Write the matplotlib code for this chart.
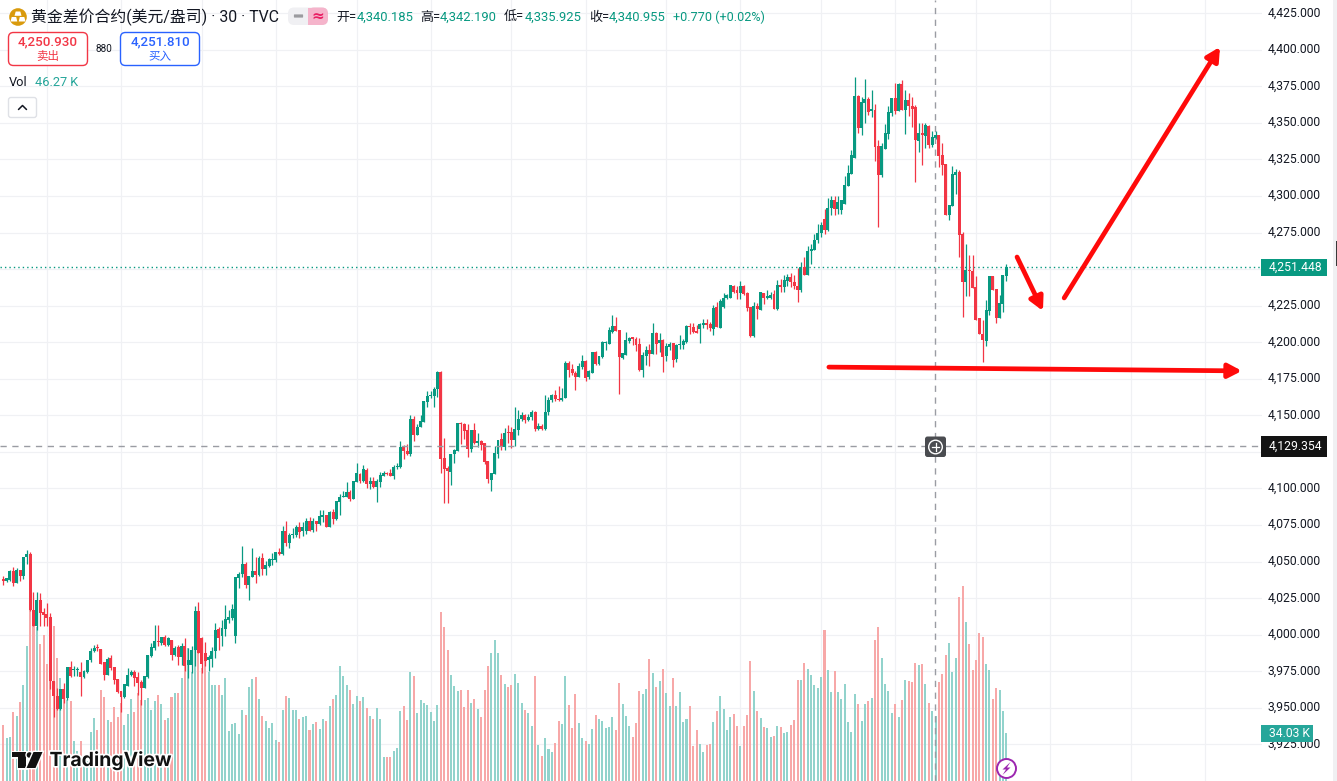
import matplotlib
matplotlib.use("Agg")
import matplotlib.pyplot as plt
from matplotlib.patches import Circle, FancyBboxPatch, Polygon, Rectangle
import matplotlib.patheffects as pe
from matplotlib.ticker import FuncFormatter
from matplotlib.transforms import ScaledTranslation

plt.rcParams['font.family'] = ['Roboto', 'Noto Sans CJK SC', 'DejaVu Sans']

# 30 minute gold CFD bars
opens = [
    4038, 4036.4, 4037.5, 4043.7, 4035, 4044.4, 4040, 4053, 4055.3, 4016.6,
    4006, 4023.9, 4015.6, 4014, 4012, 3968.5, 3958.2, 3949, 3963, 3956.6,
    3978, 3975.7, 3975.5, 3974.6, 3971.2, 3974.2, 3982.4, 3989, 3991, 3990.3,
    3981.4, 3972.6, 3984, 3978, 3969.8, 3961.6, 3957.5, 3965, 3972.6, 3974.6,
    3971.2, 3967.8, 3963.7, 3971.2, 3985.5, 3991, 3995.8, 3994.4, 3998.6, 3993,
    3996.5, 3986.2, 3991.5, 3985, 3992, 3979.4, 3979.4, 3989.7, 4016.3, 3997.9,
    3987.4, 3982.4, 3983.5, 3989, 4004, 3998.8, 4004, 4010, 4011.3, 3999.2,
    4038.6, 4041.6, 4048.4, 4034, 4039.7, 4043.6, 4040.9, 4052.7, 4044.8, 4047,
    4051, 4051.1, 4056.2, 4055, 4071, 4062.5, 4068, 4068.2, 4073.5, 4070.9,
    4070.9, 4077.5, 4071.6, 4077.5, 4075.7, 4080.7, 4081.8, 4073.9, 4083.6, 4079.1,
    4090.9, 4094.3, 4094.3, 4097.3, 4092.7, 4104.6, 4109.8, 4105.2, 4112.5, 4103,
    4105, 4100.9, 4104.6, 4108.6, 4110.5, 4110.9, 4108.6, 4114.6, 4114.6, 4128.2,
    4125.9, 4123.9, 4147.3, 4136.4, 4142.1, 4145.5, 4159.1, 4163.2, 4163, 4167.7,
    4179.6, 4120.7, 4113.9, 4111.4, 4123.4, 4125.5, 4144.6, 4143.9, 4139.8, 4126.8,
    4139.8, 4131.4, 4132.3, 4130.9, 4118.6, 4105.9, 4109.8, 4123.4, 4133.6, 4128.2,
    4138.4, 4138.4, 4133, 4139.8, 4147.3, 4150, 4147, 4149, 4152, 4141,
    4143, 4141, 4152, 4160.5, 4163.8, 4161, 4160.5, 4162, 4185.6, 4181.6,
    4179.3, 4176.1, 4182.9, 4187, 4176.1, 4178.8, 4193.1, 4185, 4189.7, 4199.7,
    4199, 4206.8, 4210.9, 4208.1, 4189.1, 4191.6, 4200.9, 4203.1, 4202, 4198.6,
    4180.9, 4190.4, 4194.5, 4191.8, 4206.1, 4199.3, 4201.3, 4190.4, 4196.6, 4199.3,
    4188.4, 4197.9, 4197.9, 4200, 4210.9, 4210.2, 4207.5, 4208.8, 4211.6, 4212.9,
    4212.2, 4208.8, 4223.8, 4209.5, 4223.8, 4230, 4230.6, 4238.8, 4235.4, 4233.4,
    4238.2, 4233.4, 4223.8, 4204, 4224.5, 4221.8, 4233.4, 4230.6, 4230.6, 4232.7,
    4222.5, 4239.5, 4237.5, 4242.2, 4244.3, 4240.9, 4238.2, 4235.4, 4251.8, 4245.7,
    4262.7, 4263.4, 4270.2, 4275, 4284, 4277, 4292, 4297, 4291, 4290.7,
    4294.7, 4307.2, 4315.2, 4326.1, 4368.4, 4346.6, 4363.6, 4366.3, 4358.4, 4358.8,
    4334.1, 4314.1, 4332.2, 4342.5, 4356.8, 4367, 4358.2, 4376.6, 4358.8, 4365.7,
    4361.6, 4360.9, 4337.7, 4342.5, 4341.1, 4347.9, 4335, 4340, 4341.8, 4328.2,
    4322, 4287.2, 4293.4, 4314.5, 4316.6, 4274.3, 4240.9, 4249.7, 4249, 4238.1,
    4216.3, 4205.4, 4200.6, 4221.1, 4245, 4236.1, 4216.3, 4225.9, 4245.6,
]
highs = [
    4040, 4039, 4044, 4046, 4045.7, 4044.4, 4053, 4058, 4056.5, 4029.5,
    4029, 4028.4, 4018, 4021.6, 4014.7, 3968.5, 3963.4, 3963, 3967, 3978,
    3982, 3978.7, 3978, 3981.4, 3976, 3982.8, 3991, 3993, 3993.8, 3990.3,
    3981.4, 3985, 3986, 3978, 3969.8, 3961.6, 3966.4, 3977.3, 3976, 3976,
    3974.6, 3969, 3971.9, 3986.2, 3994, 4006.7, 4006.7, 3998.6, 4000, 3998.5,
    3996.5, 3992.4, 3993, 3994.6, 3997.9, 3990.8, 3992.4, 4019.8, 4022.5, 3998.6,
    3995, 3986.2, 3991.5, 4007.9, 4005, 4010, 4020.4, 4017, 4021, 4039.6,
    4043, 4060.3, 4050, 4040.4, 4059, 4053.4, 4054, 4055.7, 4050.7, 4052.3,
    4056, 4056.8, 4059, 4074, 4077.8, 4069.8, 4073, 4075, 4077, 4076.8,
    4079.8, 4080.2, 4079.5, 4077.5, 4085.2, 4085.2, 4081.8, 4084.5, 4085.9, 4091.1,
    4096.1, 4098.4, 4104.1, 4099.1, 4105, 4117.3, 4110.5, 4115.9, 4113.9, 4107.7,
    4107.7, 4106.4, 4111.1, 4111.8, 4111.4, 4113.2, 4115.9, 4117.7, 4132.3, 4129.6,
    4130.2, 4150, 4149.6, 4143.9, 4150, 4159.6, 4166.4, 4166.4, 4169.1, 4180,
    4180, 4134.3, 4115.5, 4123.4, 4126.8, 4144.6, 4145.5, 4144.6, 4143.9, 4139.8,
    4144.6, 4137.7, 4133.2, 4131.4, 4118.6, 4110.5, 4129.1, 4133, 4137.7, 4141.1,
    4143.2, 4141.8, 4155.5, 4153.7, 4152, 4151, 4151, 4154, 4153, 4145,
    4144, 4164, 4162.7, 4164.5, 4167, 4170, 4169, 4187, 4187, 4185,
    4180.2, 4185.6, 4191.1, 4187.7, 4180.9, 4193.1, 4193.8, 4190.6, 4200.6, 4200.6,
    4210.2, 4218.4, 4217, 4208.1, 4192.5, 4206.8, 4203.4, 4203.4, 4203.4, 4202.7,
    4193.4, 4197.5, 4198.6, 4212.9, 4206.8, 4206.1, 4202, 4199.3, 4200, 4199.7,
    4198.6, 4204.7, 4202, 4211.6, 4213.4, 4212.9, 4212, 4213.4, 4215.6, 4215.6,
    4213.6, 4225.2, 4227.2, 4229.3, 4233.4, 4232.7, 4239.5, 4239.5, 4238.2, 4242.2,
    4239.5, 4234.7, 4223.8, 4227.2, 4227, 4234.1, 4233.8, 4235.4, 4234.7, 4235.4,
    4242.9, 4243.6, 4246.3, 4247, 4247.7, 4245.7, 4251.1, 4255.2, 4258.6, 4266.1,
    4267.5, 4274, 4281, 4282, 4291, 4299, 4300, 4300, 4300, 4297.5,
    4313.8, 4321.3, 4331.6, 4381.3, 4369.1, 4367.7, 4380, 4367.7, 4372.5, 4362.9,
    4338.4, 4336.3, 4349.3, 4361.6, 4367, 4377.3, 4377.3, 4379.3, 4372.5, 4370.4,
    4367.7, 4362.3, 4350, 4350, 4350, 4348.6, 4344.5, 4344.5, 4341.8, 4336.3,
    4322, 4294, 4320.7, 4318.6, 4317.9, 4275.6, 4267.5, 4260, 4260, 4245,
    4216.3, 4215, 4228.6, 4245, 4245.6, 4236.1, 4232, 4246.3, 4253.8,
]
lows = [
    4034, 4036, 4037, 4033, 4035, 4037, 4038, 4048.5, 4016, 4006,
    4003, 4006, 4006, 4006, 3963, 3943.4, 3948.6, 3948.6, 3953, 3955,
    3971, 3971.9, 3972, 3957.7, 3970.3, 3973.7, 3981, 3988, 3989, 3980,
    3969, 3972.6, 3976, 3966, 3960, 3946.8, 3957, 3964.6, 3971.4, 3964.6,
    3958.9, 3952, 3963.5, 3970.5, 3985, 3989.7, 3992.4, 3993, 3992.4, 3992,
    3982.8, 3985.5, 3979.4, 3979.4, 3975.3, 3970.3, 3973.7, 3978.7, 3987.4, 3973.7,
    3978.7, 3974.8, 3978, 3984, 3989.7, 3992, 3998.8, 4008, 4010, 3994.4,
    4031.8, 4039.7, 4031.8, 4023.8, 4039.7, 4035.6, 4040, 4040.9, 4040.9, 4046,
    4047.7, 4050, 4054.6, 4054.3, 4060.3, 4059.6, 4066, 4066.6, 4066, 4067.3,
    4068.9, 4070.9, 4070.5, 4071.1, 4075.2, 4077.3, 4073.6, 4073.4, 4075.7, 4078.6,
    4081.8, 4094.3, 4094.1, 4091.4, 4092.7, 4104.6, 4103.6, 4104.6, 4100.2, 4099.6,
    4100, 4090.9, 4101.1, 4108.2, 4109.1, 4108.2, 4106.4, 4113.6, 4114.3, 4120,
    4123.2, 4122, 4132.5, 4136.4, 4141.8, 4145.5, 4155.5, 4162, 4155.5, 4162.5,
    4110.5, 4090, 4090, 4102.3, 4117.3, 4125.5, 4130.5, 4133.6, 4121.6, 4125,
    4130.2, 4128.2, 4126.4, 4116.6, 4103.6, 4098.2, 4109.8, 4120.9, 4126.4, 4126.4,
    4131.4, 4127.7, 4129.1, 4136.4, 4146, 4145, 4146, 4147, 4139, 4140,
    4140, 4140, 4150, 4159, 4160, 4160, 4160, 4161.8, 4176.1, 4177.5,
    4167.5, 4176.1, 4181.6, 4173.4, 4174.7, 4178.8, 4184.3, 4184.3, 4189.3, 4194.5,
    4198.6, 4206.6, 4207.5, 4164.5, 4188.4, 4191.1, 4199.3, 4197.9, 4193.8, 4180.2,
    4176.1, 4184.3, 4183.6, 4191.8, 4191.8, 4193, 4179.5, 4187, 4195, 4182.9,
    4186.3, 4195.2, 4195.2, 4199.7, 4205.4, 4206.1, 4206.1, 4199.3, 4210, 4208.8,
    4207.5, 4204.7, 4210.2, 4209.5, 4223.6, 4229.3, 4230.6, 4233.8, 4229.3, 4229.3,
    4232.5, 4221.1, 4203.4, 4203.4, 4215.6, 4221.8, 4225.9, 4229.7, 4229.3, 4222.5,
    4221.8, 4234.7, 4234.1, 4238.2, 4237.5, 4236.1, 4227.2, 4234.7, 4245.7, 4245.7,
    4253.8, 4263.4, 4268, 4272, 4274, 4276, 4287, 4287, 4288, 4287.9,
    4294.7, 4307.2, 4315.2, 4326.1, 4343.2, 4341.8, 4350, 4355.4, 4354.3, 4324.1,
    4279, 4312.7, 4332.2, 4339.1, 4354.8, 4356.1, 4358.2, 4358.8, 4342.5, 4354.8,
    4347.2, 4309.7, 4330.2, 4321.3, 4332.9, 4332.9, 4333.6, 4339.1, 4320, 4314.5,
    4287.2, 4283.8, 4293.4, 4301.6, 4258.6, 4217, 4231.3, 4231.3, 4236.8, 4215,
    4205.4, 4186.3, 4197.2, 4218.4, 4235.4, 4212.9, 4216.3, 4220.4, 4242.2,
]
closes = [
    4036.4, 4039, 4043.7, 4035, 4044.4, 4040, 4053, 4055.3, 4016.6, 4006,
    4023.9, 4015, 4013.6, 4011.5, 3968, 3958.2, 3949, 3963, 3956, 3978,
    3971.4, 3976, 3976, 3971.2, 3975.3, 3982.8, 3989, 3991, 3990.6, 3980,
    3972.6, 3983.5, 3977.3, 3969, 3961, 3957.5, 3966.4, 3972.6, 3974.6, 3970.5,
    3967, 3963.7, 3971.9, 3986.2, 3991.7, 3995.8, 3995.1, 3998.6, 3993, 3998,
    3986.2, 3991, 3984.9, 3992, 3978.7, 3982.8, 3989.7, 4016.3, 3987.4, 3980,
    3982, 3984.6, 3989, 4003.3, 3997.6, 4004.5, 4010.9, 4012, 4017.7, 4039.6,
    4041.6, 4048.4, 4034, 4040.4, 4043.2, 4040.9, 4052.7, 4044.8, 4047.5, 4051.6,
    4051.6, 4056.2, 4055, 4071, 4062.5, 4068.2, 4069, 4073.5, 4070, 4073.4,
    4077.5, 4071.1, 4078, 4075.7, 4081.1, 4081.1, 4073.9, 4083.6, 4079.1, 4091.1,
    4093.9, 4095, 4097.3, 4092.7, 4105, 4110.5, 4105, 4113.2, 4103, 4105,
    4101.1, 4105, 4109.1, 4110.5, 4109.8, 4108.6, 4115, 4115, 4128.2, 4125.5,
    4123.4, 4147.3, 4136.4, 4142.3, 4145.9, 4159.6, 4163, 4163.7, 4168.2, 4179.6,
    4120, 4113.2, 4111.8, 4123.4, 4126.1, 4144.6, 4143.9, 4139.1, 4126.8, 4139.8,
    4130.9, 4132.3, 4129.6, 4118, 4106.4, 4110.5, 4124.1, 4133, 4128.6, 4137.7,
    4138, 4133, 4140.5, 4147.3, 4150, 4147, 4149, 4152, 4141, 4143,
    4141, 4152, 4160.5, 4163.8, 4161, 4160.5, 4162, 4185.6, 4180.9, 4178.8,
    4176.1, 4183.6, 4187, 4175.4, 4180.2, 4193.1, 4185.4, 4190.4, 4200, 4200.2,
    4208.1, 4210.9, 4207.5, 4189.7, 4192.5, 4201.3, 4202.7, 4202.5, 4197.9, 4180.9,
    4191.1, 4194.5, 4191.8, 4206.1, 4198.6, 4201.3, 4189.7, 4197.2, 4198.6, 4187.7,
    4197.9, 4198.6, 4200.6, 4210.9, 4210.2, 4206.8, 4206.1, 4212.2, 4212.9, 4212,
    4209.5, 4223.2, 4210.2, 4227.9, 4230, 4232, 4239.5, 4234.7, 4233.4, 4238.2,
    4232.7, 4223.2, 4204, 4224.5, 4222.5, 4234.1, 4230, 4231.3, 4232, 4222.5,
    4239.5, 4237.5, 4242.9, 4244.3, 4240.9, 4238.8, 4235.4, 4251.8, 4245.7, 4262.7,
    4263.4, 4270.2, 4275, 4280, 4277, 4292, 4297, 4291, 4296, 4297.5,
    4307.7, 4315.9, 4328.2, 4368.4, 4346.6, 4364.3, 4366.3, 4357.5, 4358.8, 4333.6,
    4314.1, 4334.3, 4343.2, 4357.5, 4367, 4358.2, 4376.6, 4358.8, 4365.7, 4361.8,
    4359.5, 4338.4, 4343.2, 4342, 4348.6, 4335, 4340.4, 4341.8, 4327.5, 4321.3,
    4287.2, 4294, 4315.2, 4316.6, 4273.6, 4240.9, 4249.7, 4248.4, 4237.2, 4215,
    4205.4, 4201.3, 4221.8, 4245, 4235.4, 4216.3, 4226.6, 4246.3, 4251.448,
]
# volume in thousands
volumes = [
    39.7, 30.7, 31.2, 48.9, 46.1, 56, 68.1, 95.7, 121.3, 121.3,
    109.5, 97.2, 103.5, 83, 71.6, 109.9, 87.2, 73, 65, 57.4,
    56.7, 28.4, 21.3, 28.4, 14.9, 14, 34.8, 44.7, 36.2, 64.5,
    59.6, 43.3, 41.8, 52.5, 45.4, 55.3, 39.7, 47.5, 58.2, 48.9,
    62.2, 57.4, 57.4, 58.6, 50.4, 56.7, 61, 54.6, 43.3, 44.7,
    59.6, 62.6, 62.4, 73, 85.8, 94.1, 77.5, 92.9, 100, 79.9,
    88.2, 77.5, 68.1, 68.1, 68.1, 61, 73, 35.5, 40.4, 41.1,
    33.3, 50.4, 46.8, 66.7, 72.3, 73.8, 58.2, 46.1, 42.6, 37.6,
    41.1, 29.1, 27.7, 50.4, 60.3, 58.9, 50.4, 50.4, 44, 45.4,
    46.1, 36.2, 40.4, 41.8, 36.9, 44, 42.6, 53.2, 58.2, 61,
    81.6,
    74.5, 68.1, 64.5, 54.6, 60.3, 56.7, 59.6, 51.8, 46.1, 44,
    51.8, 44, 17, 17, 17, 21.3, 23.4, 49.6, 53.2, 43.3,
    77.3, 74.5, 48.2, 57.4, 55.3, 53.9, 48.9, 42.6, 53.9, 119.9,
    109.2, 92.9, 75.2, 67.4, 63.8, 64.5, 52.5, 64.5, 55.3, 58.2,
    51.1, 45.4, 64.5, 81.6, 90.8, 100, 90.8, 75.2, 68.8, 66.7,
    68.1, 75.9, 69.5, 55.3, 50.4, 48.2, 39, 74.5, 25.5, 17.7,
    30.5, 22.7, 20.6, 27, 42.6, 40.4, 74.5, 53.9, 37.6, 61.7,
    41.1, 30.5, 28.4, 26.2, 36.9, 46.8, 44, 42.6, 37.6, 38.3,
    45.4, 36.2, 69.5, 54.6, 46.1, 39, 31.2, 41.1, 63.8, 61.7,
    65.2, 86.5, 76.6, 66.7, 70.9, 79.4, 62.4, 53.2, 73, 53.2,
    63.1,
    41.8, 44, 53.2, 24.8, 36.2, 26.2, 20.6, 25.5, 26.2, 41.8,
    49.6, 60.3, 51.1, 36.2, 45.4, 47.5, 39, 24.8, 39, 46.8,
    85.1, 63.8, 49.6, 44.7, 38.3, 37.6, 31.2, 31.9, 39, 38.3,
    34, 34.8, 39.7, 43.3, 71.6, 71.6, 83.7, 79.4, 75.2, 68.1,
    66, 73.8, 107.1, 78.7, 63.1, 78, 63.1, 58.2, 68.8, 41.8,
    34.8, 61.7, 54.6, 42.6, 54.6, 56.7, 58.9, 100, 109.2, 87.2,
    68.8, 63.8, 48.2, 54.6, 45.4, 57.4, 71.6, 70.9, 70.2, 83.7,
    82.3, 83, 68.8, 55.3, 49.6, 46.1, 70.2, 75.9, 89.4, 97.9,
    77.3, 87.2, 130.5, 138.3, 112.8, 97.2, 78.7, 85.8, 105, 102.1,
    83, 78.7, 58.2, 66, 64.5, 49.6, 34.03,
]
price_ticks = list(range(3925, 4450, 25))
# these two sit behind the price markers on the axis
covered_ticks = [4125, 4250]
time_grid = [13, 35, 59, 81, 105, 127, 151, 173, 197, 219, 243, 265, 289, 311, 335, 357]
cross_price = 4129.354
cross_bar = 276.8
# hand drawn arrows, (bar, price) to (bar, price)
arrows = [
    ((301.2, 4258.3), (308.9, 4221.4)),
    ((315.2, 4230.3), (361.5, 4402.0)),
    ((245.3, 4183.0), (368.0, 4180.4)),
]

UP = '#089981'
DOWN = '#f23645'
UP_VOL = '#92d3cc'
DOWN_VOL = '#f7a8a8'
GRID = '#f0f1f4'
INK = '#131722'
CROSS = '#9a9ca3'

fig = plt.figure(figsize=(13.37, 7.81), dpi=100, facecolor='white')
plot_w = 1262 / 1337
x_lim = (-3.2 / 3.366, (1262 - 3.2) / 3.366)
bars = range(len(closes))
colors_up = [c >= o for o, c in zip(opens, closes)]

# volume sits underneath, on its own scale
ax_vol = fig.add_axes([0, 0, plot_w, 1], zorder=1)
ax_vol.set_xlim(x_lim)
ax_vol.set_ylim(0, 781 / 1.41)
ax_vol.bar(bars, volumes, width=0.6, linewidth=0,
           color=[UP_VOL if u else DOWN_VOL for u in colors_up], zorder=2)
ax_vol.set_yticks([])
ax_vol.set_xticks([])
for spine in ax_vol.spines.values():
    spine.set_visible(False)
for b in time_grid:
    ax_vol.axvline(b, color=GRID, lw=0.85, zorder=1)

ax = fig.add_axes([0, 0, plot_w, 1], zorder=2)
ax.patch.set_visible(False)
ax.set_xlim(x_lim)
ax.set_ylim(4425 - (781 - 13.3) / 1.462, 4425 + 13.3 / 1.462)
for p in price_ticks:
    ax_vol.axhline((p - ax.get_ylim()[0]) * 1.462 / 1.41, color=GRID, lw=0.85, zorder=1)

colors = [UP if u else DOWN for u in colors_up]
ax.vlines(bars, lows, highs, colors=colors, lw=0.9, zorder=3)
body_low = [min(o, c) for o, c in zip(opens, closes)]
body_h = [max(abs(o - c), 0.8) for o, c in zip(opens, closes)]
ax.bar(bars, body_h, bottom=body_low, width=0.88, color=colors, linewidth=0, zorder=4)

ax.axhline(closes[-1], color=UP, lw=1, ls=(0, (1, 2.2)), zorder=2)
ax.axhline(cross_price, color=CROSS, lw=1, ls=(0, (4.5, 4)), zorder=5)
ax.axvline(cross_bar, color=CROSS, lw=1, ls=(0, (4.5, 4)), zorder=5)

ax.set_xticks([])
ax.yaxis.tick_right()
ax.set_yticks(price_ticks)
ax.yaxis.set_major_formatter(FuncFormatter(
    lambda v, pos: '' if round(v) in covered_ticks else f"{v:,.3f}"))
ax.tick_params(axis='y', length=0, pad=3.9, labelsize=8.75, labelcolor=INK)
lift = ScaledTranslation(0, 1.3 / 72, fig.dpi_scale_trans)
for tick in ax.yaxis.get_major_ticks():
    tick.label2.set_transform(tick.label2.get_transform() + lift)
for spine in ax.spines.values():
    spine.set_visible(False)

for start, end in arrows:
    ax.annotate('', xy=end, xytext=start, zorder=6,
                arrowprops=dict(arrowstyle='-|>,head_length=0.8,head_width=0.42',
                                color='#ff0a0a', lw=3.4, shrinkA=0, shrinkB=0,
                                mutation_scale=10, capstyle='round'))

# interface chrome, laid out in screen pixels
ui = fig.add_axes([0, 0, 1, 1], zorder=3)
ui.set_xlim(0, 1337)
ui.set_ylim(781, 0)
ui.axis('off')


def box(x0, y0, x1, y1, face, edge='none', r=1.5, lw=1.0, z=5):
    ui.add_patch(FancyBboxPatch((x0 + r, y0 + r), x1 - x0 - 2 * r, y1 - y0 - 2 * r,
                                boxstyle=f"round,pad={r},rounding_size={r}",
                                fc=face, ec=edge, lw=lw, zorder=z))


def label(x, y, s, size=9.4, color=INK, ha='left', **kw):
    ui.text(x, y, s, fontsize=size, color=color, ha=ha, va='center', zorder=7, **kw)


# symbol badge
ui.add_patch(Circle((18, 17), 8.8, fc='#d99a0c', ec='none', zorder=5))
ui.add_patch(Polygon([(14.5, 15.8), (21.5, 15.8), (20.3, 11.5), (15.7, 11.5)], fc='white', zorder=6))
ui.add_patch(Polygon([(10.5, 21.5), (17.3, 21.5), (16.2, 17), (11.7, 17)], fc='white', zorder=6))
ui.add_patch(Polygon([(18.7, 21.5), (25.5, 21.5), (24.3, 17), (19.8, 17)], fc='white', zorder=6))
label(31, 17, '黄金差价合约(美元/盎司) · 30 · TVC', size=11.4)

# market status pill
box(288, 7.5, 328, 25, '#f0f0f3', r=6, z=5)
box(308, 7.5, 328, 25, '#f5b4cb', r=6, z=5)
ui.add_patch(Rectangle((308, 7.5), 8, 17.5, fc='#f5b4cb', ec='none', zorder=5))
ui.add_patch(FancyBboxPatch((294.5, 15), 8, 2, boxstyle='round,pad=0.6', fc='#9b9b9f', ec='none', zorder=6))
label(317.5, 16.5, '≈', size=11, color='#e91e63', ha='center', family='DejaVu Sans', weight='bold')

# OHLC legend
label(336, 17, '开=')
label(357, 17, '4,340.185', color=UP)
label(420, 17, '高=')
label(440, 17, '4,342.190', color=UP)
label(504, 17, '低=')
label(525, 17, '4,335.925', color=UP)
label(589, 17, '收=')
label(609, 17, '4,340.955', color=UP)
label(673, 17, '+0.770 (+0.02%)', size=9.1, color=UP)

# bid and ask
box(8.5, 32.5, 87.5, 65.5, 'white', edge=DOWN, r=5)
label(48, 42, '4,250.930', size=9.6, color=DOWN, ha='center', weight='medium')
label(48, 56.5, '卖出', size=8.3, color=DOWN, ha='center')
label(104, 48.5, '880', size=7.2, ha='center')
box(120.5, 32.5, 199.5, 65.5, 'white', edge='#2962ff', r=5)
label(160, 42, '4,251.810', size=9.6, color='#2962ff', ha='center', weight='medium')
label(160, 56.5, '买入', size=8.3, color='#2962ff', ha='center')

# volume legend and collapse button
label(9, 83, 'Vol', size=9.2)
label(35, 83, '46.27 K', size=9.2, color='#26a69a')
box(8.5, 97.5, 36.5, 117.5, 'white', edge='#dfe1e6', r=2.5)
ui.plot([18.5, 22.5, 26.5], [109.5, 105.5, 109.5], color=INK, lw=1.1, zorder=7,
        solid_capstyle='round', solid_joinstyle='round')

# price axis markers
ui.add_patch(Rectangle((1261, 259), 66, 17, fc=UP, ec='none', zorder=5))
label(1269, 267.3, f"{closes[-1]:,.3f}", size=8.75, color='white')
ui.add_patch(Rectangle((1261, 436), 66, 21, fc='#131313', ec='none', zorder=5))
label(1269, 446.3, f"{cross_price:,.3f}", size=8.75, color='white')
ui.add_patch(Rectangle((1261, 725), 52, 17, fc='#26a69a', ec='none', zorder=5))
label(1269, 733.3, f"{volumes[-1]:.2f} K", size=8.75, color='white')

# crosshair plus button
box(925, 436.5, 946, 457, '#4a4c50', r=2.5, z=6)
ui.add_patch(Circle((935.5, 447), 6.8, fc='none', ec='white', lw=1.0, zorder=7))
ui.plot([931.8, 939.2], [447, 447], color='white', lw=0.9, zorder=7)
ui.plot([935.5, 935.5], [443.3, 450.7], color='white', lw=0.9, zorder=7)

# side strip of the window
ui.add_patch(Rectangle((1333, 0), 4, 781, fc='#f0f0f2', ec='none', zorder=5))
ui.add_patch(Rectangle((1336, 241), 1, 25, fc='#3a3a3a', ec='none', zorder=6))

# TradingView logo
halo = [pe.withStroke(linewidth=2.0, foreground='white')]
ui.add_patch(Polygon([(12, 752), (25.5, 752), (25.5, 768), (17.5, 768), (17.5, 757), (12, 757)],
                     fc='#111111', ec='none', zorder=7, path_effects=halo))
ui.add_patch(Circle((29.5, 755), 2.8, fc='#111111', ec='none', zorder=7, path_effects=halo))
ui.add_patch(Polygon([(33.5, 752), (42.5, 752), (35.5, 768), (26.5, 768)],
                     fc='#111111', ec='none', zorder=7, path_effects=halo))
ui.text(49.5, 760.5, 'TradingView', fontsize=14, color='#111111', weight='bold', family='Inter',
        ha='left', va='center', zorder=7,
        path_effects=[pe.withStroke(linewidth=2.5, foreground='white')])

# lightning badge
ui.add_patch(Circle((1006.5, 768.5), 9.5, fc='white', ec='#9c27b0', lw=1.4, zorder=7))
ui.add_patch(Polygon([(1010.5, 762), (1002.5, 769.5), (1006, 769.5), (1002.5, 775),
                      (1010.5, 767.5), (1007, 767.5)], fc='#9c27b0', ec='none', zorder=8))

fig.savefig('out.png', dpi=100, facecolor='white')
